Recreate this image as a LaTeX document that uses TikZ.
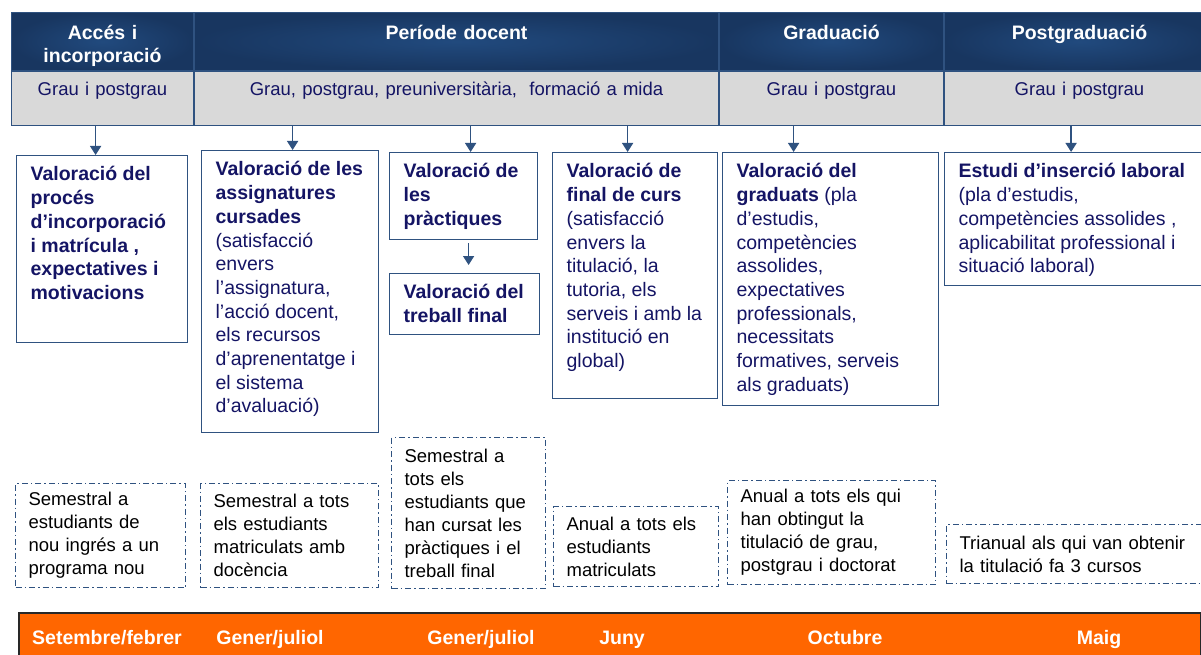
\documentclass[tikz,border=0pt]{standalone}
\usepackage{fontspec}
\setmainfont{Liberation Sans}
\usepackage{tikz}
\usetikzlibrary{positioning}
\usetikzlibrary{arrows.meta}
\definecolor{hdrblue}{RGB}{33,74,126}
\definecolor{hdrdark}{RGB}{24,54,96}
\definecolor{boxblue}{RGB}{47,82,128}
\definecolor{bandgray}{RGB}{217,217,217}
\definecolor{txtblue}{RGB}{20,20,100}
\definecolor{barorange}{RGB}{255,102,0}
\definecolor{barline}{RGB}{40,40,40}

\begin{document}
\begin{tikzpicture}[
            x = 1pt, y = -1pt, % pixel grid, origin top left
            > = {Triangle[length=9pt, width=11pt]}, % arrow head style
            semithick % line style
            ]

        \tikzstyle{phase}=[
            draw = boxblue,
            line width = 1pt,
            inner color = hdrblue,
            outer color = hdrdark,
            text = white,
            align = center,
            anchor = north west,
            inner sep = 0pt,
            text height = 27pt,
            text depth = 31pt,
            font = \bfseries\fontsize{19.5}{23.5}\selectfont
        ]
        \tikzstyle{band}=[
            draw = boxblue,
            line width = 1.5pt,
            fill = bandgray,
            text = txtblue,
            align = center,
            inner sep = 0pt,
            text height = 24pt,
            text depth = 30pt,
            font = \fontsize{18.5}{22}\selectfont
        ]
        \tikzstyle{survey}=[
            draw = boxblue,
            line width = 1.2pt,
            anchor = north west,
            inner xsep = 14pt,
            inner ysep = 11pt,
            text = txtblue,
            font = \fontsize{19.5}{23.7}\selectfont
        ]
        \tikzstyle{freq}=[
            draw = boxblue,
            line width = 1.2pt,
            dash pattern = on 6pt off 3pt on 1.5pt off 3pt,
            anchor = north west,
            inner xsep = 13pt,
            inner ysep = 0pt,
            align = left,
            font = \fontsize{18.5}{23}\selectfont
        ]
        \tikzstyle{flow}=[
            ->,
            color = boxblue,
            line width = 1.5pt
        ]
        \tikzstyle{month}=[
            text = white,
            anchor = base,
            font = \bfseries\fontsize{19.5}{22}\selectfont
        ]

        \useasboundingbox (0,0) rectangle (1201,655);

	% phases
	\node[phase, text width=182pt] (H1) at (11,12) {Accés i\\incorporació};
	\node[phase, text width=524pt] (H2) [right=0pt of H1] {Període docent};
	\node[phase, text width=224pt] (H3) [right=0pt of H2] {Graduació};
	\node[phase, text width=270pt] (H4) [right=0pt of H3] {Postgraduació};

	\node[band, text width=182pt] (G1) [below=0pt of H1] {Grau i postgrau};
	\node[band, text width=524pt] (G2) [below=0pt of H2] {Grau, postgrau, preuniversitària,~ formació a mida};
	\node[band, text width=224pt] (G3) [below=0pt of H3] {Grau i postgrau};
	\node[band, text width=270pt] (G4) [below=0pt of H4] {Grau i postgrau};

        % surveys
         \node[survey] (V1) at (16,155) {\parbox[t][165pt][t]{143pt}{\raggedright\bfseries Valoració del\\ procés\\ d’incorporació\\ i matrícula ,\\ expectatives i\\ motivacions}};
         \node[survey] (V2) at (201,150) {\parbox[t][260pt][t]{149pt}{\raggedright\textbf{Valoració de les\\ assignatures\\ cursades}\\ (satisfacció\\ envers\\ l’assignatura,\\ l’acció docent,\\ els recursos\\ d’aprenentatge i\\ el sistema\\ d’avaluació)}};
         \node[survey] (V3) at (389,152) {\parbox[t][65pt][t]{120pt}{\raggedright\bfseries Valoració de\\ les\\ pràctiques}};
         \node[survey] (V4) at (389,273) {\parbox[t][39pt][t]{122pt}{\raggedright\bfseries Valoració del\\ treball final}};
         \node[survey] (V5) at (552,152) {\parbox[t][224pt][t]{137pt}{\raggedright\textbf{Valoració de\\ final de curs}\\ (satisfacció\\ envers la\\ titulació, la\\ tutoria, els\\ serveis i amb la\\ institució en\\ global)}};
         \node[survey] (V6) at (722,152) {\parbox[t][231pt][t]{188pt}{\raggedright\textbf{Valoració del\\ graduats} (pla\\ d’estudis,\\ competències\\ assolides,\\ expectatives\\ professionals,\\ necessitats\\ formatives, serveis\\ als graduats)}};
         \node[survey] (V7) at (944,152) {\parbox[t][111pt][t]{229pt}{\raggedright\textbf{Estudi d’inserció laboral}\\ (pla d’estudis,\\ competències assolides ,\\ aplicabilitat professional i\\ situació laboral)}};

         \path[flow] ([xshift=-6.5pt]V1.north |- G1.south) edge ([xshift=-6.5pt]V1.north);
         \path[flow] ([xshift=2.5pt]V2.north |- G2.south) edge ([xshift=2.5pt]V2.north);
         \path[flow] ([xshift=7pt]V3.north |- G2.south) edge ([xshift=7pt]V3.north);
         \path[flow] ([xshift=-7.5pt]V5.north |- G2.south) edge ([xshift=-7.5pt]V5.north);
         \path[flow] ([xshift=-37pt]V6.north |- G3.south) edge ([xshift=-37pt]V6.north);
         \path[flow] ([xshift=-2pt]V7.north |- G4.south) edge ([xshift=-2pt]V7.north);
         \path[flow, shorten <=3pt, shorten >=8pt] ([xshift=5pt]V3.south) edge ([xshift=5pt]V3.south |- V4.north);

        % frequency
         \node[freq, text width=144pt, minimum height=104pt] (F1) at (15,483) {Semestral a\\ estudiants de\\ nou ingrés a un\\ programa nou};
         \node[freq, text width=152pt, minimum height=104pt] (F2) at (200,483) {Semestral a tots\\ els estudiants\\ matriculats amb\\ docència};
         \node[freq, text width=128pt, minimum height=151pt] (F3) at (391,437) {Semestral a\\ tots els\\ estudiants que\\ han cursat les\\ pràctiques i el\\ treball final};
         \node[freq, text width=139pt, minimum height=80pt] (F4) at (553,506) {Anual a tots els\\ estudiants\\ matriculats};
         \node[freq, text width=182pt, minimum height=104pt] (F5) at (727,480) {Anual a tots els qui\\ han obtingut la\\ titulació de grau,\\ postgrau i doctorat};
         \node[freq, text width=234pt, minimum height=59pt] (F6) at (946,524) {Trianual als qui van obtenir\\ la titulació fa 3 cursos};

        % timing
         \node[draw=barline, line width=1.5pt, fill=barorange, anchor=north west, minimum width=1182pt, minimum height=48pt] (BAR) at (18,612) {};
         \node[month] (M1) at (107,644) {Setembre/febrer};
         \node[month] (M2) at (270,644) {Gener/juliol};
         \node[month] (M3) at (481,644) {Gener/juliol};
         \node[month] (M4) at (622,644) {Juny};
         \node[month] (M5) at (845,644) {Octubre};
         \node[month] (M6) at (1099,644) {Maig};

  \end{tikzpicture}
\end{document}
